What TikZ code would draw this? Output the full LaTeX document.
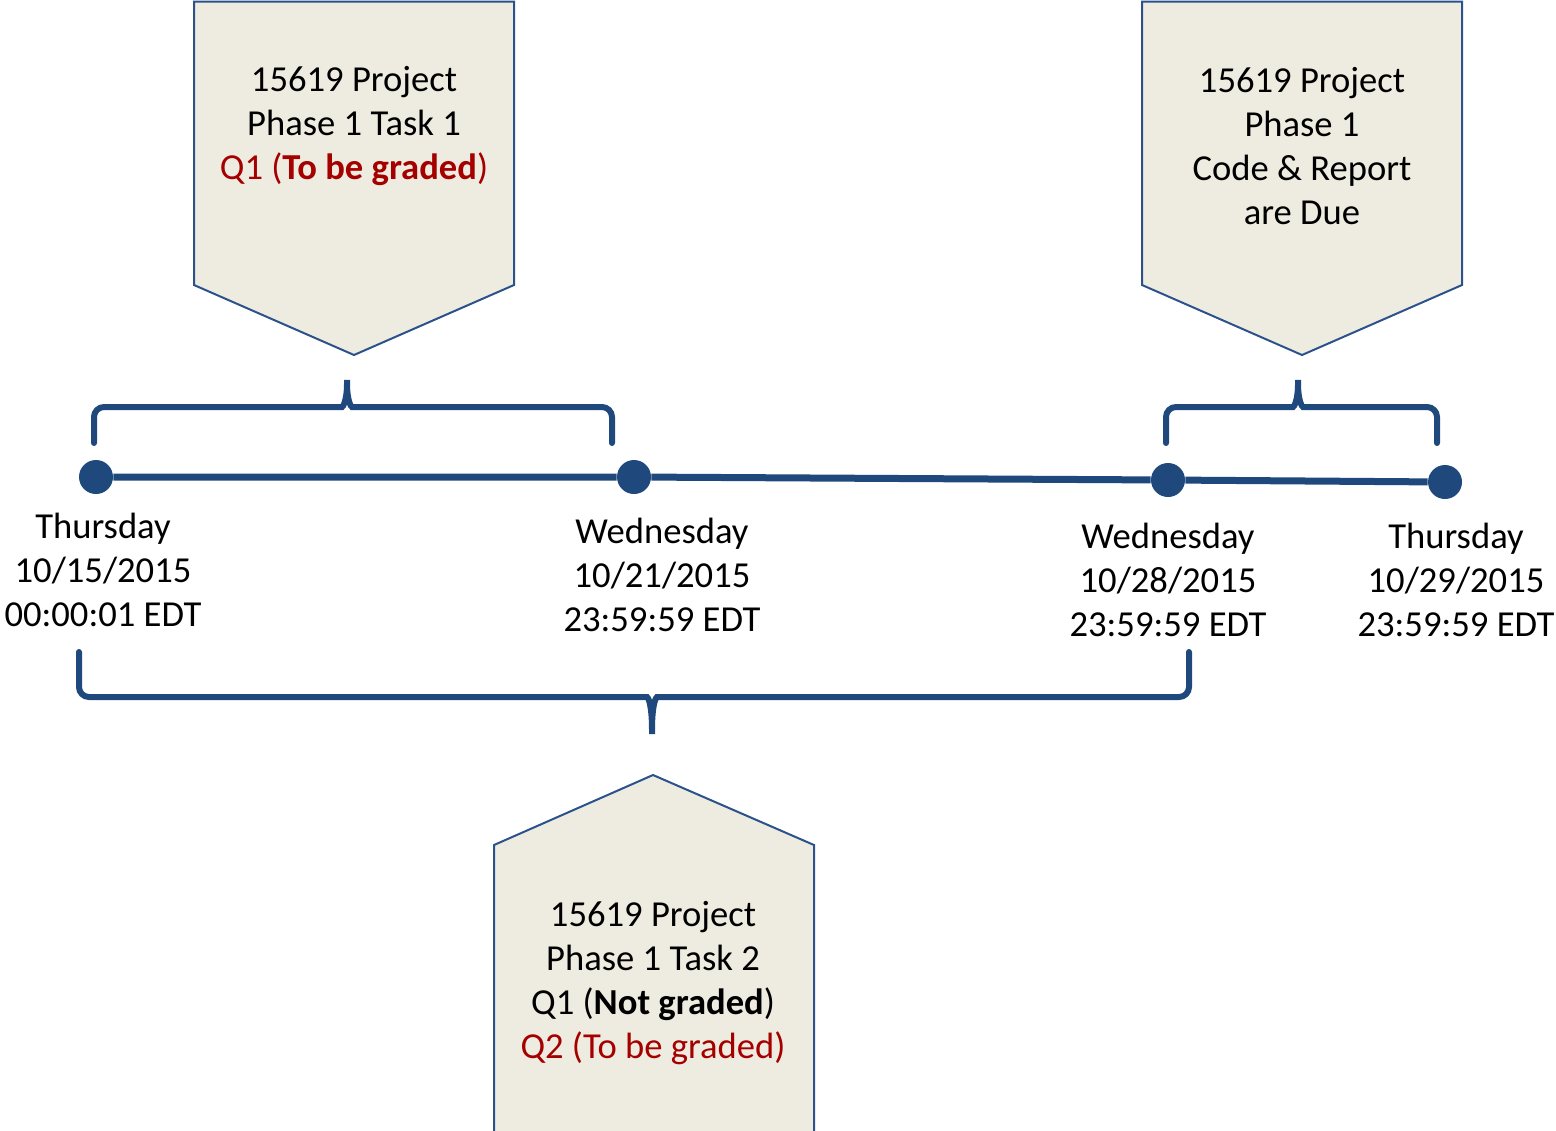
\documentclass[tikz,border=0pt]{standalone}
\usepackage{fontspec}
\setmainfont{Carlito}
\usetikzlibrary{positioning}
\definecolor{boxfill}{RGB}{238,236,225}
\definecolor{boxline}{RGB}{44,82,140}
\definecolor{lineblue}{RGB}{31,73,125}
\definecolor{gradered}{RGB}{165,0,0}
\begin{document}
\begin{tikzpicture}[
  x=0.5pt, y=-0.5pt,
  callout/.style={draw=boxline, fill=boxfill, line width=1pt},
  brace/.style={draw=lineblue, line width=3pt, line cap=round, rounded corners=5pt},
  timeline/.style={draw=lineblue, line width=3.5pt},
  dot/.style={circle, fill=lineblue, inner sep=0pt, minimum size=17pt},
  datelabel/.style={align=center, font=\fontsize{18.3}{22}\selectfont},
  boxtext/.style={align=center, font=\fontsize{18.3}{22}\selectfont}
]
\useasboundingbox (0,0) rectangle (1556,1130);
\clip (0,0) rectangle (1556,1130);

% callouts
\draw[callout] (194,1.5) -- (514,1.5) -- (514,285) -- (354,355) -- (194,285) -- cycle;
\draw[callout] (1142,1.5) -- (1462,1.5) -- (1462,285) -- (1302,355) -- (1142,285) -- cycle;
\draw[callout] (494,1140) -- (494,845) -- (653,775) -- (814,845) -- (814,1140) -- cycle;

\node[boxtext] (task1) at (354,126) {15619 Project\\Phase 1 Task 1\\\textcolor{gradered}{Q1 (\textbf{To be graded})}};
\node[boxtext] (report) at (1302,146) {15619 Project\\Phase 1\\Code \& Report\\are Due};
\node[boxtext] (task2) at (653,983) {15619 Project\\Phase 1 Task 2\\Q1 (\textbf{Not graded})\\\textcolor{gradered}{Q2 (To be graded)}};

% braces
\draw[brace] (94,443) -- (94,407) -- (332,407) .. controls (343,407) and (347,400) .. (347,374)
  .. controls (347,400) and (351,407) .. (362,407) -- (612,407) -- (612,443);
\draw[brace] (1166,443) -- (1166,407) -- (1283,407) .. controls (1294,407) and (1298,400) .. (1298,374)
  .. controls (1298,400) and (1302,407) .. (1313,407) -- (1437,407) -- (1437,443);
\draw[brace] (79,652) -- (79,697) -- (637,697) .. controls (648,697) and (652,704) .. (652,740)
  .. controls (652,704) and (656,697) .. (667,697) -- (1189,697) -- (1189,652);

% timeline
\node[dot] (d1) at (96,477) {};
\node[dot] (d2) at (634,477) {};
\node[dot] (d3) at (1168,480) {};
\node[dot] (d4) at (1445,482) {};
\draw[timeline] (d1) -- (d2) -- (d3) -- (d4);

\node[datelabel] (t1) at (103,570) {Thursday\\10/15/2015\\00:00:01 EDT};
\node[datelabel] (t2) at (662,575) {Wednesday\\10/21/2015\\23:59:59 EDT};
\node[datelabel] (t3) at (1168,580) {Wednesday\\10/28/2015\\23:59:59 EDT};
\node[datelabel] (t4) at (1456,580) {Thursday\\10/29/2015\\23:59:59 EDT};
\end{tikzpicture}
\end{document}
